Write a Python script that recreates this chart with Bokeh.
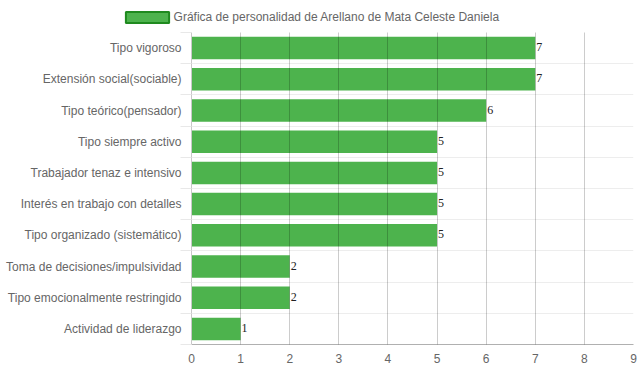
from bokeh.plotting import figure
from bokeh.layouts import column
from bokeh.models import (Range1d, FixedTicker, ColumnDataSource, Legend, LegendItem)
from bokeh.core.properties import value
from bokeh.embed import file_html
from bokeh.resources import INLINE

categories = ["Tipo vigoroso", "Extensión social(sociable)", "Tipo teórico(pensador)",
              "Tipo siempre activo", "Trabajador tenaz e intensivo",
              "Interés en trabajo con detalles", "Tipo organizado (sistemático)",
              "Toma de decisiones/impulsividad", "Tipo emocionalmente restringido",
              "Actividad de liderazgo"]
values = [7, 7, 6, 5, 5, 5, 5, 2, 2, 1]
x_ticks = [0, 1, 2, 3, 4, 5, 6, 7, 8, 9]
series_name = "Gráfica de personalidad de Arellano de Mata Celeste Daniela"

BAR = "#4db34d"
n = len(categories)
centers = [i + 0.5 for i in range(n)]
bounds = [i for i in range(n + 1)]

# ---- legend strip ----
lf = figure(width=639, height=30, output_backend="svg", toolbar_location=None,
            x_range=Range1d(0, 1), y_range=Range1d(0, 1),
            x_axis_location=None, y_axis_location=None, frame_align=False,
            min_border_left=0, min_border_right=0, min_border_top=0, min_border_bottom=0)
lf.outline_line_color = None
lf.border_fill_color = "white"
lf.background_fill_color = "white"
lf.xgrid.visible = False
lf.ygrid.visible = False
# hidden swatch renderer: only its legend entry is shown
dummy = lf.hbar(y=[0.5], right=[0.5], left=[0.4], height=0.1, fill_color=BAR,
                line_color="#1f8a1f", line_width=2)
dummy.visible = False
legend = Legend(items=[LegendItem(label=series_name, renderers=[dummy])],
                location=(119.6, 6.5), padding=0, margin=0, spacing=0,
                glyph_width=54, glyph_height=14, label_height=14, label_standoff=0,
                border_line_color=None, background_fill_alpha=0,
                inactive_fill_alpha=0,
                label_text_font="Liberation Sans", label_text_font_size="12px",
                label_text_color="#666666")
lf.add_layout(legend, "center")

# ---- main chart ----
src = ColumnDataSource(dict(y=centers, v=values, lbl=[str(v) for v in values]))

p = figure(width=639, height=342, output_backend="svg", toolbar_location=None,
           x_range=Range1d(0, 9), y_range=Range1d(n, 0), frame_align=False,
           min_border_left=191, min_border_right=6, min_border_top=2, min_border_bottom=28)
p.outline_line_color = None
p.background_fill_color = "white"

p.hbar(y="y", right="v", left=0, height=0.72, source=src,
       fill_color=BAR, line_color=None)

p.text(x="v", y="y", text="lbl", source=src, x_offset=1, y_offset=-1,
       text_font=value("Liberation Serif"), text_font_size="12px",
       text_color="#222222", text_baseline="middle", text_align="left")

# x axis
p.xaxis.ticker = FixedTicker(ticks=x_ticks)
p.xaxis.axis_line_color = "#b0b0b0"
p.xaxis.major_tick_line_color = None
p.xaxis.minor_tick_line_color = None
p.xaxis.major_label_standoff = 3
p.xaxis.major_label_text_font = "Liberation Sans"
p.xaxis.major_label_text_font_size = "12px"
p.xaxis.major_label_text_color = "#666666"

# y axis
p.yaxis.ticker = FixedTicker(ticks=centers, minor_ticks=bounds)
p.yaxis.major_label_overrides = {c: lab for c, lab in zip(centers, categories)}
p.yaxis.axis_line_color = "#c8c8c8"
p.yaxis.major_tick_line_color = None
p.yaxis.minor_tick_in = 0
p.yaxis.minor_tick_out = 11
p.yaxis.minor_tick_line_color = "#e8e8e8"
p.yaxis.major_label_standoff = -1
p.yaxis.major_label_text_font = "Liberation Sans"
p.yaxis.major_label_text_font_size = "12px"
p.yaxis.major_label_text_color = "#666666"

# grids
p.xgrid.ticker = FixedTicker(ticks=x_ticks)
p.xgrid.grid_line_color = "black"
p.xgrid.grid_line_alpha = 0.2
p.xgrid.level = "overlay"
p.ygrid.ticker = FixedTicker(ticks=bounds)
p.ygrid.grid_line_color = "black"
p.ygrid.grid_line_alpha = 0.07

layout = column(lf, p, spacing=0)
open("out.html", "w").write(file_html(layout, INLINE))
